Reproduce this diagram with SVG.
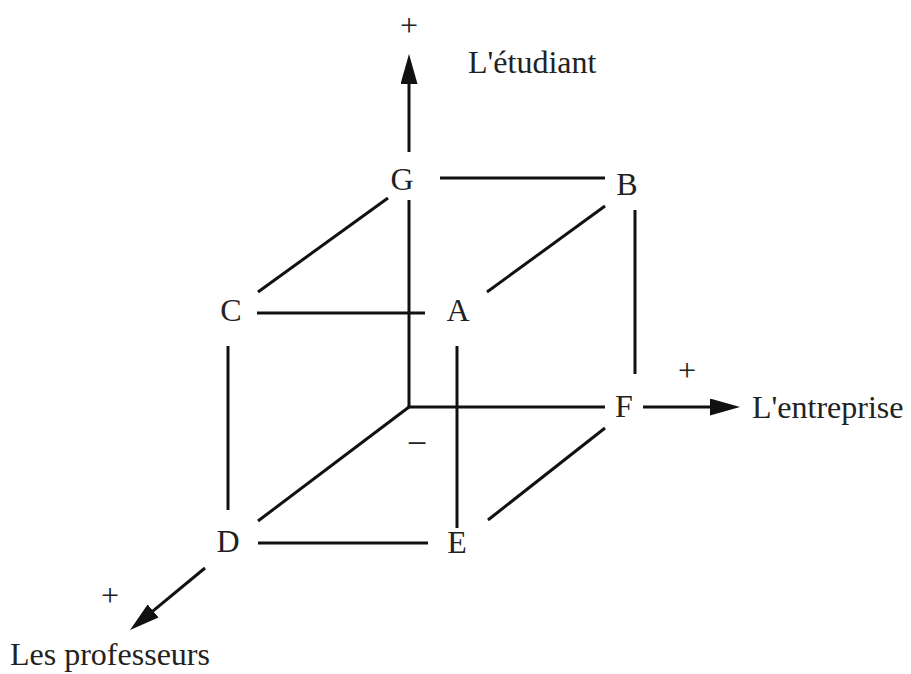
<svg xmlns="http://www.w3.org/2000/svg" width="911" height="674" viewBox="0 0 911 674">
<defs>
<style>
.l{stroke:#111;stroke-width:3;fill:none;stroke-linecap:butt}
.t{font-family:"Liberation Serif","Times New Roman",serif;font-size:32px;fill:#222}
.p{font-family:"Liberation Serif","Times New Roman",serif;font-size:32px;fill:#222}
.m{text-anchor:middle}
</style>
<marker id="ah" viewBox="0 0 30 17" refX="2" refY="8.5" markerWidth="30" markerHeight="17" markerUnits="userSpaceOnUse" orient="auto">
<path d="M0,0 L30,8.5 L0,17 Z" fill="#111"/>
</marker>
</defs>
<rect width="911" height="674" fill="#fff"/>
<g id="connectors">
<line class="l" x1="440" y1="178" x2="605" y2="178"/>
<line class="l" x1="388" y1="198" x2="258" y2="292"/>
<line class="l" x1="487" y1="292" x2="605" y2="206"/>
<line class="l" x1="257" y1="313" x2="425" y2="313"/>
<line class="l" x1="409" y1="200" x2="409" y2="408"/>
<line class="l" x1="407.5" y1="407" x2="605" y2="407"/>
<line class="l" x1="409" y1="407" x2="258" y2="521"/>
<line class="l" x1="457" y1="346" x2="457" y2="528"/>
<line class="l" x1="228" y1="346" x2="228" y2="510"/>
<line class="l" x1="635" y1="210" x2="635" y2="374"/>
<line class="l" x1="258" y1="543" x2="428" y2="543"/>
<line class="l" x1="488" y1="520" x2="605" y2="428"/>
<line class="l" x1="409" y1="152" x2="409" y2="82" marker-end="url(#ah)"/>
<line class="l" x1="643" y1="407" x2="712" y2="407" marker-end="url(#ah)"/>
<line class="l" x1="205" y1="568" x2="151.6" y2="612.2" marker-end="url(#ah)"/>
</g>
<g id="G"><text class="t m" x="402" y="190">G</text></g>
<g id="B"><text class="t m" x="627" y="195">B</text></g>
<g id="C"><text class="t m" x="231" y="321">C</text></g>
<g id="A"><text class="t m" x="458" y="321">A</text></g>
<g id="F"><text class="t m" x="624" y="417">F</text></g>
<g id="D"><text class="t m" x="228" y="552">D</text></g>
<g id="E"><text class="t m" x="457" y="553">E</text></g>
<g id="origin"><text class="t m" x="417" y="455" style="font-size:36px">−</text></g>
<g id="etudiant">
<text class="p m" x="409" y="36">+</text>
<text class="t" x="468" y="73">L'étudiant</text>
</g>
<g id="entreprise">
<text class="p m" x="687" y="381">+</text>
<text class="t" x="752" y="418">L'entreprise</text>
</g>
<g id="professeurs">
<text class="p m" x="110" y="606">+</text>
<text class="t" x="10" y="665">Les professeurs</text>
</g>
</svg>
